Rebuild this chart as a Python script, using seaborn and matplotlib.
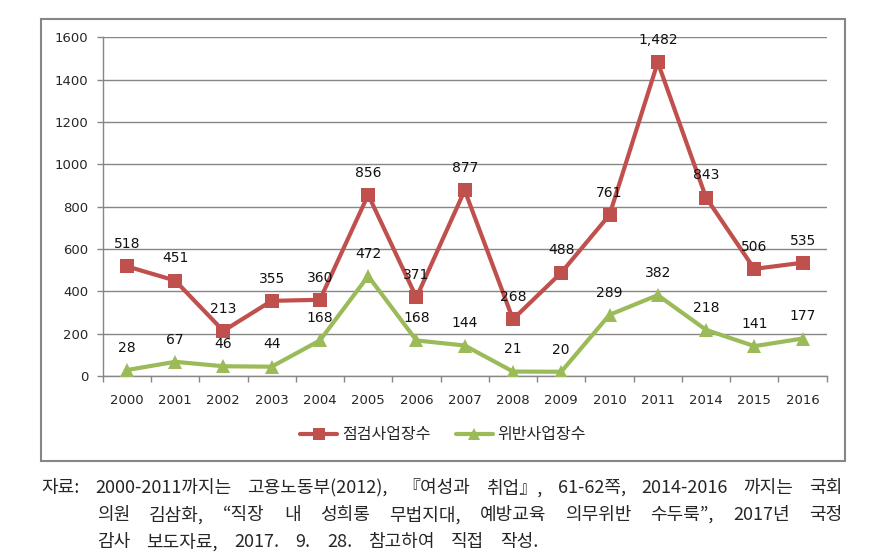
import matplotlib
matplotlib.use('Agg')
import matplotlib.pyplot as plt
import seaborn as sns
import pandas as pd
from matplotlib.lines import Line2D
from matplotlib.patches import Rectangle

# ---- data ----
years = ['2000', '2001', '2002', '2003', '2004', '2005', '2006', '2007',
         '2008', '2009', '2010', '2011', '2014', '2015', '2016']
inspected = [518, 451, 213, 355, 360, 856, 371, 877, 268, 488, 761, 1482, 843, 506, 535]
violated = [28, 67, 46, 44, 168, 472, 168, 144, 21, 20, 289, 382, 218, 141, 177]
label_insp = '점검사업장수'
label_viol = '위반사업장수'
y_ticks = [0, 200, 400, 600, 800, 1000, 1200, 1400, 1600]
note_head = '자료:'
note_lines = [
    '2000-2011까지는 고용노동부(2012), 『여성과 취업』, 61-62쪽, 2014-2016 까지는 국회',
    '의원 김삼화, “직장 내 성희롱 무법지대, 예방교육 의무위반 수두룩”, 2017년 국정',
    '감사 보도자료, 2017. 9. 28. 참고하여 직접 작성.',
]

RED = '#C0504D'
GREEN = '#9BBB59'
GRID = '#868686'
KFAM = ['Noto Sans CJK KR', 'DejaVu Sans']

sns.set_theme(style='white')
plt.rcParams['font.family'] = ['DejaVu Sans']

W, H = 888, 559
fig = plt.figure(figsize=(W / 100, H / 100), dpi=100)

# chart border box
fig.patches.append(Rectangle((41 / W, 1 - 461 / H), 804 / W, 442 / H,
                             transform=fig.transFigure, fill=False,
                             edgecolor=GRID, lw=1.5))

ax = fig.add_axes([102.7 / W, 1 - 376 / H, 724 / W, 338.7 / H])

df = pd.DataFrame({'idx': list(range(len(years))), 'year': years,
                   label_insp: inspected, label_viol: violated})
long = df.melt(id_vars=['idx', 'year'], var_name='series', value_name='value')

sns.lineplot(data=long, x='idx', y='value', hue='series', style='series',
             palette={label_insp: RED, label_viol: GREEN},
             markers={label_insp: 's', label_viol: '^'}, dashes=False,
             lw=3, markersize=10, markeredgewidth=0, ax=ax, legend=False,
             zorder=3)

for series, vals in ((label_insp, inspected), (label_viol, violated)):
    for i, v in enumerate(vals):
        ax.annotate(f'{v:,}', (i, v), xytext=(0, 16), textcoords='offset points',
                    ha='center', va='center', fontsize=10, color='#111111',
                    zorder=5)

ax.set_xlim(-0.5, len(years) - 0.5)
ax.set_ylim(0, 1600)
ax.set_yticks(y_ticks)
ax.set_yticklabels([str(t) for t in y_ticks])
ax.set_xticks(range(len(years)))
ax.set_xticklabels(years)
ax.set_xticks([i - 0.5 for i in range(len(years) + 1)], minor=True)
ax.tick_params(axis='x', which='major', length=0, pad=13, labelsize=9.5)
ax.tick_params(axis='x', which='minor', length=4.5, width=1, color=GRID, direction='out', bottom=True)
ax.tick_params(axis='y', which='major', length=4.5, width=1, color=GRID, direction='out',
               pad=6, labelsize=9.5, left=True)
ax.set_xlabel('')
ax.set_ylabel('')
ax.grid(axis='y', color=GRID, lw=1)
ax.grid(axis='x', visible=False)
ax.set_axisbelow(True)
for s in ('top', 'right'):
    ax.spines[s].set_visible(False)
for s in ('left', 'bottom'):
    ax.spines[s].set_color(GRID)
    ax.spines[s].set_linewidth(1)

handles = [Line2D([], [], color=RED, lw=3, marker='s', markersize=9, markeredgewidth=0),
           Line2D([], [], color=GREEN, lw=3, marker='^', markersize=9, markeredgewidth=0)]
fig.legend(handles, [label_insp, label_viol], loc='center',
           bbox_to_anchor=(443 / W, 1 - 435 / H), ncol=2, frameon=False,
           prop={'family': KFAM, 'size': 11.5}, handlelength=2.3,
           handletextpad=0.3, columnspacing=1.6)

# source note with justification
renderer = fig.canvas.get_renderer()
NOTE_FS = 13


def place_line(text, x0, x1, y):
    words = text.split(' ')
    objs = [fig.text(0, 0, w, fontsize=NOTE_FS, family=KFAM, va='center', ha='left')
            for w in words]
    widths = [o.get_window_extent(renderer).width for o in objs]
    gap = (x1 - x0 - sum(widths)) / max(len(words) - 1, 1)
    x = x0
    for o, w in zip(objs, widths):
        o.set_position((x / W, 1 - y / H))
        x += w + gap


fig.text(41 / W, 1 - 488 / H, note_head, fontsize=NOTE_FS, family=KFAM, va='center', ha='left')
spans = [(95, 842, 488), (97, 842, 515), (97, 539, 542)]
for line, (x0, x1, y) in zip(note_lines, spans):
    place_line(line, x0, x1, y)

fig.savefig('out.png', dpi=100)
